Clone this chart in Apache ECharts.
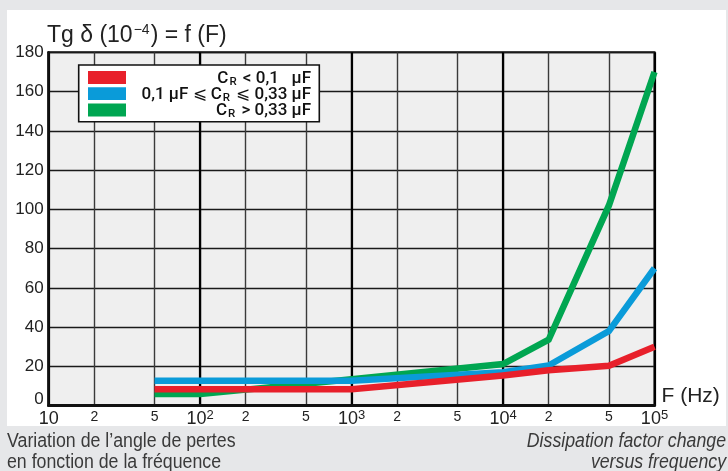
<!DOCTYPE html>
<html>
<head>
<meta charset="utf-8">
<script src="https://cdn.jsdelivr.net/npm/echarts@6/dist/echarts.min.js"></script>
<style>
  html, body { margin: 0; padding: 0; background: #e6e7e9; }
  #chart { width: 728px; height: 471px; }
</style>
</head>
<body>
<div id="chart"></div>
<script>
// Measured frequencies (Hz) and loss tangent tg δ (×10⁻⁴) for three capacitance ranges
const freqHz   = [50, 100, 1000, 10000, 20000, 50000, 100000];
const tgSmall  = [8.4, 8.4, 8.4, 15.4, 18.0, 20.3, 30.0];     // C_R < 0,1 µF
const tgMedium = [12.7, 12.7, 12.7, 17.1, 20.5, 38.0, 70.0];  // 0,1 µF ⩽ C_R ⩽ 0,33 µF
const tgLarge  = [5.9, 5.9, 13.5, 21.2, 33.6, 102.0, 170.0];  // C_R > 0,33 µF

const seriesNames  = ['CR < 0,1 µF', '0,1 µF ⩽ CR ⩽ 0,33 µF', 'CR > 0,33 µF'];
const legendLabels = [
  '{t|C}{s|R}{t| < 0,1   µF}',
  '{t|0,1 µF ⩽ C}{s|R}{t| ⩽ 0,33 µF}',
  '{t|C}{s|R}{t| > 0,33 µF}'
];
const seriesColors = ['#e8202b', '#0a9bd9', '#00a651'];

// Logarithmic frequency grid: decades plus the 2 and 5 sub-divisions
const xTickFreqs = [10, 20, 50, 100, 200, 500, 1000, 2000, 5000, 10000, 20000, 50000, 100000];
const xTickText  = ['10', '2', '5', '10^2', '2', '5', '10^3', '2', '5', '10^4', '2', '5', '10^5'];

const yMin = 0, yMax = 180, yStep = 20;

const xTickPos = xTickFreqs.map(f => Math.log10(f));
const toPoints = vals => freqHz.map((f, i) => [Math.log10(f), vals[i]]);
const seriesValues = [tgSmall, tgMedium, tgLarge];

function xLabel(v) {
  let best = 0;
  xTickPos.forEach((p, i) => { if (Math.abs(p - v) < Math.abs(xTickPos[best] - v)) best = i; });
  const txt = xTickText[best];
  if (txt.indexOf('^') >= 0) {
    const [b, e] = txt.split('^');
    return '{d|' + b + '}{p|' + e + '}';
  }
  return txt.length > 1 ? '{d|' + txt + '}' : '{m|' + txt + '}';
}

const baseFont = "'Liberation Sans', Arial, sans-serif";
const legendFont = "Roboto, 'Liberation Sans', sans-serif";

const chart = echarts.init(document.getElementById('chart'), null, { renderer: 'canvas' });

const legends = seriesNames.map((name, i) => ({
  data: [name],
  left: 88,
  top: [67, 83.2, 99.5][i],
  padding: 0,
  z: 30,
  icon: 'rect',
  itemWidth: 38,
  itemHeight: 12.8,
  itemGap: 0,
  selectedMode: false,
  formatter: () => legendLabels[i],
  textStyle: {
    width: 180,
    color: '#111',
    fontFamily: legendFont,
    fontWeight: 500,
    fontSize: 17,
    rich: {
      t: { fontSize: 17, fontWeight: 500, fontFamily: legendFont, lineHeight: 14, padding: [2, 0, 0, 0], align: 'right', color: '#111' },
      s: { fontSize: 11.5, fontWeight: 500, fontFamily: legendFont, lineHeight: 12, padding: [9, 2, 0, 1], align: 'right', color: '#111' }
    }
  }
}));

chart.setOption({
  animation: false,
  backgroundColor: '#e6e7e9',
  title: {
    text: '{a|Tg δ (10}{e|−4}{a|) = f (F)}',
    left: 47,
    top: 24,
    padding: 0,
    textStyle: {
      fontWeight: 'normal',
      rich: {
        a: { fontSize: 23, fontFamily: baseFont, fontWeight: 'normal', color: '#222', lineHeight: 24 },
        e: { fontSize: 14, fontFamily: baseFont, fontWeight: 'normal', color: '#222', lineHeight: 14, padding: [0, 1, 11, 1] }
      }
    }
  },
  legend: legends,
  grid: {
    left: 48.7,
    right: 73.5,
    top: 52.3,
    bottom: 65.3,
    show: true,
    backgroundColor: '#efefef',
    borderColor: '#111',
    borderWidth: 2
  },
  xAxis: [
    {
      type: 'value',
      min: 1,
      max: 5,
      name: 'F (Hz)',
      nameLocation: 'end',
      nameGap: 7,
      nameTextStyle: { fontSize: 21, fontFamily: baseFont, color: '#222', verticalAlign: 'bottom', lineHeight: 22, padding: [0, 0, -2, 0] },
      axisLine: { show: true, onZero: false, lineStyle: { color: '#111', width: 3 } },
      axisTick: { show: false, customValues: xTickPos },
      axisLabel: {
        customValues: xTickPos,
        margin: 4,
        formatter: xLabel,
        rich: {
          d: { fontSize: 18, fontFamily: baseFont, color: '#222', lineHeight: 19 },
          p: { fontSize: 13, fontFamily: baseFont, color: '#222', lineHeight: 13, padding: [0, 0, 7, 0] },
          m: { fontSize: 14, fontFamily: baseFont, color: '#222', lineHeight: 14 }
        }
      },
      splitLine: { show: true, lineStyle: { color: '#3a3a3a', width: 1.4 } }
    },
    {
      type: 'value',
      min: 1,
      max: 5,
      interval: 1,
      position: 'bottom',
      axisLine: { show: false },
      axisTick: { show: false },
      axisLabel: { show: false },
      splitLine: { show: true, lineStyle: { color: '#000', width: 2.2 } }
    }
  ],
  yAxis: {
    type: 'value',
    min: yMin,
    max: yMax,
    interval: yStep,
    axisLine: { show: true, lineStyle: { color: '#111', width: 2.6 } },
    axisTick: { show: false },
    axisLabel: {
      margin: 5,
      fontSize: 17,
      fontFamily: baseFont,
      color: '#222',
      formatter: v => (v === 0 ? '{z|0}' : String(v)),
      rich: { z: { fontSize: 17, fontFamily: baseFont, color: '#222', padding: [0, 0, 12, 0] } }
    },
    splitLine: { show: true, lineStyle: { color: '#1a1a1a', width: 1.4 } }
  },
  series: seriesNames.map((name, i) => ({
    name,
    type: 'line',
    data: toPoints(seriesValues[i]),
    showSymbol: false,
    symbol: 'none',
    silent: true,
    z: [6, 5, 4][i],
    color: seriesColors[i],
    lineStyle: { color: seriesColors[i], width: 6.5, join: 'miter', cap: 'butt' }
  })),
  graphic: [
    { type: 'rect', z: -10, shape: { x: 7, y: 10, width: 719, height: 416 }, style: { fill: '#ffffff' } },
    { type: 'rect', z: 20, shape: { x: 78.7, y: 65, width: 240.6, height: 56.7 }, style: { fill: '#ffffff', stroke: '#111', lineWidth: 1.6 } },
    { type: 'rect', z: 100, shape: { x: 0, y: 426, width: 728, height: 45 }, style: { fill: '#e6e7e9' } },
    {
      type: 'text', z: 101, x: 7, y: 441.5, scaleX: 0.91,
      style: { text: 'Variation de l’angle de pertes', font: '19.5px ' + baseFont, fill: '#3a3a3a', verticalAlign: 'middle', align: 'left' }
    },
    {
      type: 'text', z: 101, x: 7, y: 463, scaleX: 0.91,
      style: { text: 'en fonction de la fréquence', font: '19.5px ' + baseFont, fill: '#3a3a3a', verticalAlign: 'middle', align: 'left' }
    },
    {
      type: 'text', z: 101, x: 726, y: 441.5, scaleX: 0.91,
      style: { text: 'Dissipation factor change', font: 'italic 19.5px ' + baseFont, fill: '#3a3a3a', verticalAlign: 'middle', align: 'right' }
    },
    {
      type: 'text', z: 101, x: 726, y: 463, scaleX: 0.91,
      style: { text: 'versus frequency', font: 'italic 19.5px ' + baseFont, fill: '#3a3a3a', verticalAlign: 'middle', align: 'right' }
    }
  ]
});
</script>
</body>
</html>
